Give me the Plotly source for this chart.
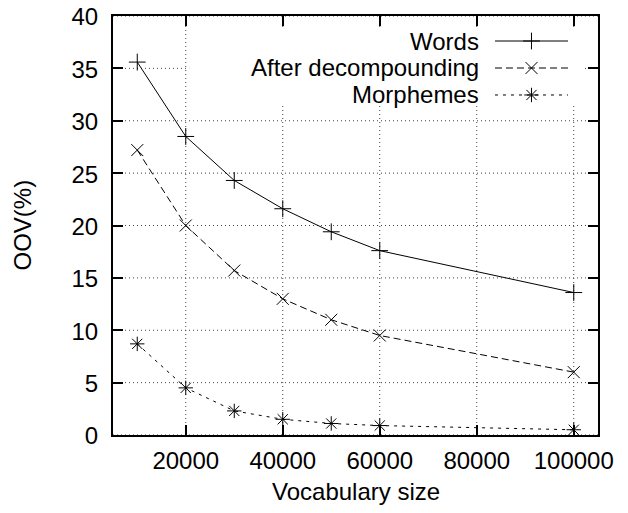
import plotly.graph_objects as go

vocab = [10000, 20000, 30000, 40000, 50000, 60000, 100000]
words = [35.6, 28.5, 24.3, 21.6, 19.4, 17.6, 13.6]
decomp = [27.2, 20.0, 15.7, 13.0, 11.0, 9.5, 6.0]
morph = [8.7, 4.5, 2.3, 1.5, 1.1, 0.9, 0.5]

names = ["Words", "After decompounding", "Morphemes"]
series = [words, decomp, morph]
dashes = ["solid", "7px,4px", "3px,5px"]
symbols = ["cross-thin-open", "x-thin-open", "asterisk-open"]

x_ticks = [20000, 40000, 60000, 80000, 100000]
y_ticks = [0, 5, 10, 15, 20, 25, 30, 35, 40]

FONT = "Liberation Sans, Arial, sans-serif"
FS = 24
GRID = dict(color="#444", width=1, dash="1px,3px")

fig = go.Figure()
for name, vals, dash, sym in zip(names, series, dashes, symbols):
    fig.add_trace(go.Scatter(
        x=vocab, y=vals, mode="lines+markers", name=name,
        line=dict(color="black", width=1, dash=dash),
        marker=dict(symbol=sym, size=12, color="black", line=dict(width=1, color="black")),
        showlegend=False,
    ))

# dotted grid drawn as shapes (below the traces)
for xv in x_ticks:
    fig.add_shape(type="line", xref="x", yref="paper", x0=xv, x1=xv, y0=0, y1=1,
                  line=GRID, layer="below")
for yv in y_ticks:
    fig.add_shape(type="line", xref="paper", yref="y", x0=0, x1=1, y0=yv, y1=yv,
                  line=GRID, layer="below")
# opaque key box hiding the grid
fig.add_shape(type="rect", xref="paper", yref="paper", x0=0.157, x1=0.969, y0=0.785, y1=0.971,
              fillcolor="white", line=dict(width=0), layer="below")

# custom gnuplot-style key (text left, sample right) on an overlay axis in [0,1]
key_y = [0.9403, 0.8759, 0.8115]
x0, x1 = 0.7876, 0.9381
for name, ky, dash, sym in zip(names, key_y, dashes, symbols):
    fig.add_trace(go.Scatter(
        x=[x0, x1], y=[ky, ky], mode="lines", xaxis="x2", yaxis="y2",
        line=dict(color="black", width=1, dash=dash), showlegend=False, hoverinfo="skip",
    ))
    fig.add_trace(go.Scatter(
        x=[(x0 + x1) / 2], y=[ky], mode="markers", xaxis="x2", yaxis="y2",
        marker=dict(symbol=sym, size=12, color="black", line=dict(width=1, color="black")),
        showlegend=False, hoverinfo="skip",
    ))
    fig.add_annotation(
        x=0.7526, y=ky, xref="paper", yref="paper", text=name, showarrow=False,
        xanchor="right", yanchor="middle", xshift=3,
        font=dict(family=FONT, size=FS, color="black"),
    )

axis_common = dict(
    showline=True, linecolor="black", linewidth=2, mirror="allticks",
    ticks="inside", ticklen=10, tickwidth=2, tickcolor="black",
    showgrid=False, zeroline=False, automargin=False, ticklabeloverflow="allow",
    tickfont=dict(family=FONT, size=FS, color="black"),
)

fig.update_layout(
    width=628, height=513,
    margin=dict(l=113, r=30, t=16, b=78),
    paper_bgcolor="white", plot_bgcolor="white",
    xaxis=dict(range=[5000, 105000], tickvals=x_ticks, ticktext=[str(v) for v in x_ticks],
               ticklabelstandoff=3, **axis_common),
    yaxis=dict(range=[0, 40], tickvals=y_ticks, ticktext=[str(v) for v in y_ticks],
               ticklabelstandoff=8, ticklabelshift=1, **axis_common),
    xaxis2=dict(range=[0, 1], overlaying="x", visible=False, showgrid=False, automargin=False),
    yaxis2=dict(range=[0, 1], overlaying="y", visible=False, showgrid=False, automargin=False),
    showlegend=False,
)

fig.add_annotation(x=0.5, y=0, xref="paper", yref="paper", text="Vocabulary size",
                   showarrow=False, yanchor="middle", yshift=-56,
                   font=dict(family=FONT, size=FS, color="black"))
fig.add_annotation(x=0, y=0.5, xref="paper", yref="paper", text="OOV(%)",
                   showarrow=False, xanchor="center", textangle=-90, xshift=-91,
                   font=dict(family=FONT, size=FS, color="black"))

# remove the default page margin so the 628x513 figure fills the window exactly
fig.write_html("out.html", config={"displayModeBar": False},
               post_script="document.body.style.margin='0';")
